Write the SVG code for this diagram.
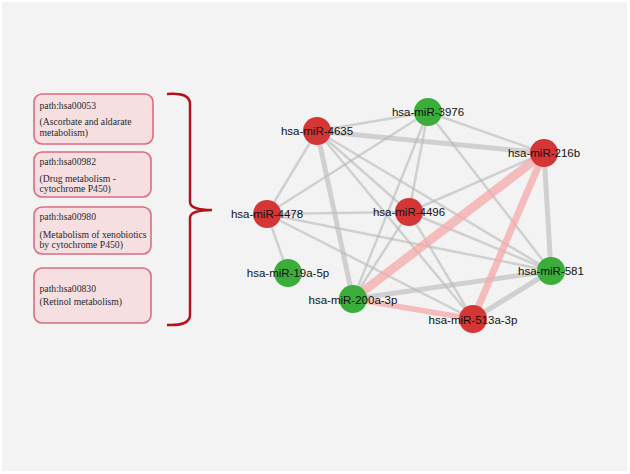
<svg xmlns="http://www.w3.org/2000/svg" width="630" height="474" viewBox="0 0 630 474">
<style>
.e{stroke:#b9b9b9;stroke-opacity:0.6;stroke-linecap:round;fill:none}
.t{stroke-width:2.5}
.k{stroke-width:5}
.p{stroke:#f4a9a9;stroke-opacity:0.75;stroke-linecap:round;fill:none}
.r{fill:#d63535}
.g{fill:#3aad3a}
.lb{font-family:"Liberation Sans",Arial,sans-serif;font-size:11.5px;fill:#111;text-anchor:middle}
.box{fill:#f5dfe0;stroke:#de6b80;stroke-width:1.6}
.bt{font-family:"Liberation Serif","Times New Roman",serif;font-size:9.7px;fill:#2a2a2a}
</style>
<rect x="0" y="0" width="630" height="474" fill="#ffffff"/>
<rect x="2" y="2" width="625" height="469" fill="#f3f3f3"/>

<g id="connectors">
<line class="e t" x1="317" y1="131" x2="428" y2="112"/>
<line class="e k" x1="317" y1="131" x2="544" y2="153"/>
<line class="e t" x1="317" y1="131" x2="267" y2="214"/>
<line class="e k" x1="317" y1="131" x2="353" y2="299"/>
<line class="e t" x1="317" y1="131" x2="409" y2="212"/>
<line class="e t" x1="317" y1="131" x2="473" y2="319"/>
<line class="e t" x1="317" y1="131" x2="551" y2="271"/>
<line class="e t" x1="267" y1="214" x2="428" y2="112"/>
<line class="e t" x1="267" y1="214" x2="409" y2="212"/>
<line class="e t" x1="267" y1="214" x2="288" y2="273"/>
<line class="e t" x1="267" y1="214" x2="551" y2="271"/>
<line class="e t" x1="267" y1="214" x2="473" y2="319"/>
<line class="e t" x1="428" y1="112" x2="544" y2="153"/>
<line class="e t" x1="428" y1="112" x2="551" y2="271"/>
<line class="e t" x1="428" y1="112" x2="409" y2="212"/>
<line class="e t" x1="428" y1="112" x2="353" y2="299"/>
<line class="e t" x1="544" y1="153" x2="409" y2="212"/>
<line class="e k" x1="544" y1="153" x2="551" y2="271"/>
<line class="e t" x1="409" y1="212" x2="551" y2="271"/>
<line class="e t" x1="409" y1="212" x2="473" y2="319"/>
<line class="e t" x1="409" y1="212" x2="353" y2="299"/>
<line class="e k" x1="353" y1="299" x2="551" y2="271"/>
<line class="e k" x1="473" y1="319" x2="551" y2="271"/>
<line class="p" stroke-width="9" x1="353" y1="299" x2="544" y2="153"/>
<line class="p" stroke-width="7" x1="544" y1="153" x2="473" y2="319"/>
<line class="p" stroke-width="5.5" x1="353" y1="299" x2="473" y2="319"/>
</g>

<g id="n4635"><circle class="r" cx="317" cy="131" r="14"/><text class="lb" x="317" y="135">hsa-miR-4635</text></g>
<g id="n3976"><circle class="g" cx="428" cy="112" r="14"/><text class="lb" x="428" y="116">hsa-miR-3976</text></g>
<g id="n216b"><circle class="r" cx="544" cy="153" r="14"/><text class="lb" x="544" y="157">hsa-miR-216b</text></g>
<g id="n4478"><circle class="r" cx="267" cy="214" r="14"/><text class="lb" x="267" y="218">hsa-miR-4478</text></g>
<g id="n4496"><circle class="r" cx="409" cy="212" r="14"/><text class="lb" x="409" y="216">hsa-miR-4496</text></g>
<g id="n19a"><circle class="g" cx="288" cy="273" r="14"/><text class="lb" x="288" y="277">hsa-miR-19a-5p</text></g>
<g id="n581"><circle class="g" cx="551" cy="271" r="14"/><text class="lb" x="551" y="275">hsa-miR-581</text></g>
<g id="n200a"><circle class="g" cx="353" cy="299" r="14"/><text class="lb" x="353" y="304">hsa-miR-200a-3p</text></g>
<g id="n513a"><circle class="r" cx="473" cy="319" r="14"/><text class="lb" x="473" y="324">hsa-miR-513a-3p</text></g>

<g id="box1"><rect class="box" x="34" y="94" width="119" height="50" rx="8"/>
<text class="bt" x="39.5" y="108.5">path:hsa00053</text>
<text class="bt" x="39.5" y="125">(Ascorbate and aldarate</text>
<text class="bt" x="39.5" y="135.5">metabolism)</text></g>
<g id="box2"><rect class="box" x="34" y="152" width="117" height="45" rx="8"/>
<text class="bt" x="39.5" y="164.5">path:hsa00982</text>
<text class="bt" x="39.5" y="181.5">(Drug metabolism -</text>
<text class="bt" x="39.5" y="191.5">cytochrome P450)</text></g>
<g id="box3"><rect class="box" x="34" y="207" width="117" height="47" rx="8"/>
<text class="bt" x="39.5" y="220">path:hsa00980</text>
<text class="bt" x="39.5" y="237.5">(Metabolism of xenobiotics</text>
<text class="bt" x="39.5" y="247.5">by cytochrome P450)</text></g>
<g id="box4"><rect class="box" x="34" y="268" width="117" height="55" rx="8"/>
<text class="bt" x="39.5" y="291.5">path:hsa00830</text>
<text class="bt" x="39.5" y="304.5">(Retinol metabolism)</text></g>

<g id="brace"><path d="M167,94 Q190,92 190,104 L190,202 Q190,210 212,210 Q190,210 190,218 L190,315 Q190,326 167,325" fill="none" stroke="#b3121c" stroke-width="2.5"/></g>
</svg>
